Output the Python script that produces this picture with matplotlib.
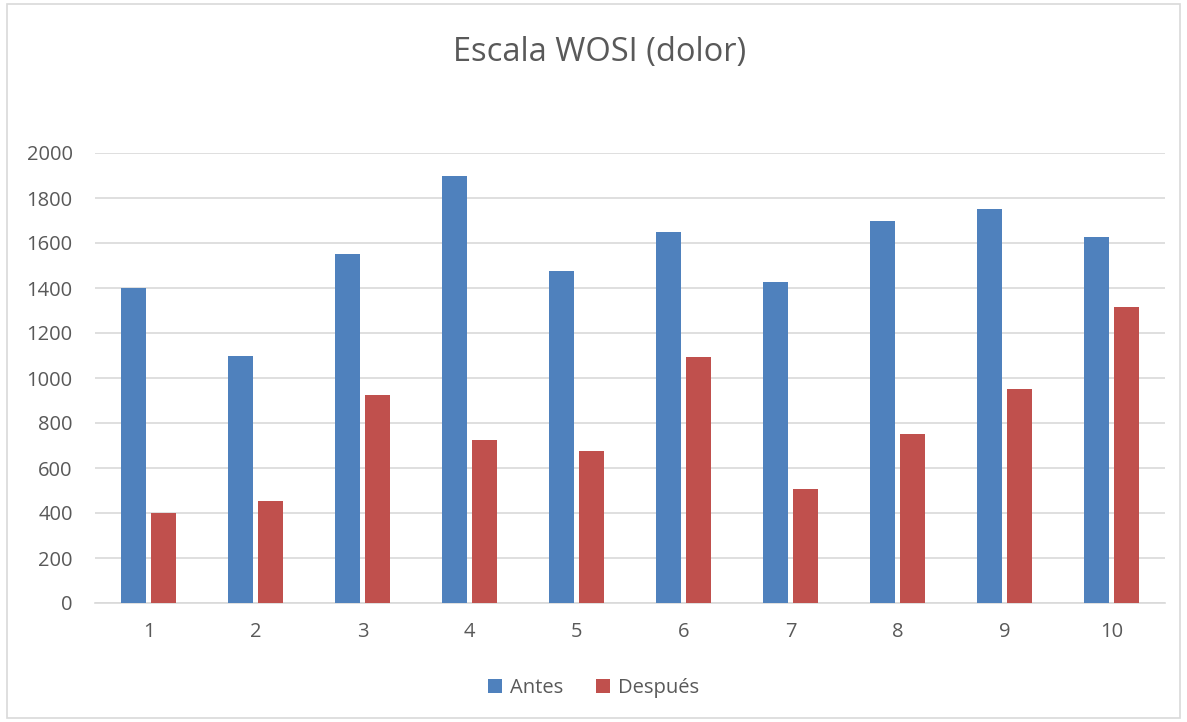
import matplotlib.pyplot as plt
import numpy as np
from matplotlib.patches import Rectangle

plt.rcParams['font.family'] = ['Open Sans', 'DejaVu Sans']

categorias = ['1', '2', '3', '4', '5', '6', '7', '8', '9', '10']
antes = [1400, 1100, 1550, 1900, 1475, 1650, 1425, 1700, 1750, 1625]
despues = [400, 455, 925, 725, 675, 1095, 505, 750, 950, 1315]

azul = '#4f81bd'
rojo = '#c0504d'
gris = '#595959'

fig = plt.figure(figsize=(11.87, 7.22), dpi=100)
# borde del grafico
fig.patches.append(Rectangle((0.006, 0.006), 0.988, 0.988, transform=fig.transFigure,
                             fill=False, edgecolor='#d9d9d9', linewidth=1.2))

ax = fig.add_axes([95 / 1187, 1 - 603 / 722, 1070 / 1187, 450 / 722])

x = np.arange(1, len(categorias) + 1)
ancho = 0.225
ax.bar(x - 0.14, antes, ancho, color=azul, label='Antes', zorder=3)
ax.bar(x + 0.14, despues, ancho, color=rojo, label='Después', zorder=3)

ax.set_xlim(0.5, 10.5)
ax.set_ylim(0, 2000)
ax.set_yticks(range(0, 2001, 200))
ax.set_xticks(x)
ax.set_xticklabels(categorias)
ax.yaxis.grid(True, color='#d9d9d9', linewidth=1.2, zorder=0)
for s in ['top', 'right', 'left']:
    ax.spines[s].set_visible(False)
ax.spines['bottom'].set_color('#d9d9d9')
ax.spines['bottom'].set_linewidth(1.2)
ax.tick_params(axis='both', length=0, labelsize=14.5, labelcolor=gris)
ax.tick_params(axis='y', pad=16)
ax.tick_params(axis='x', pad=14)

fig.text(0.505, 1 - 52 / 722, 'Escala WOSI (dolor)', ha='center', va='center',
         fontsize=23.5, color=gris)

fig.legend(loc='center', bbox_to_anchor=(0.5, 1 - 688 / 722), ncol=2, frameon=False,
           fontsize=14.5, labelcolor=gris, handlelength=0.7, handleheight=0.7,
           columnspacing=1.6, handletextpad=0.4)

fig.savefig('out.png', dpi=100)
